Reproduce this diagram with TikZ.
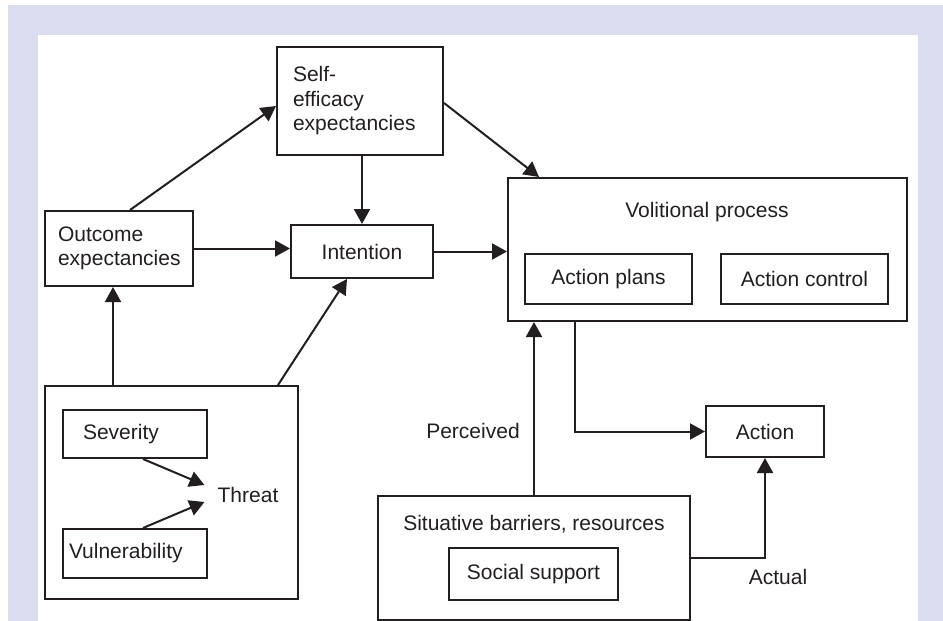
\documentclass[tikz,border=0pt]{standalone}
\usepackage{fontspec}
\setmainfont{Liberation Sans}
\usetikzlibrary{arrows.meta,calc}
\definecolor{lav}{RGB}{217,221,239}
\definecolor{ink}{RGB}{35,31,32}
\begin{document}
\begin{tikzpicture}[x=1pt,y=-1pt,
  every node/.style={font=\fontsize{21}{24.5}\selectfont, text=ink},
  box/.style={draw=ink, line width=2pt, rectangle, inner sep=0pt},
  txt/.style={inner sep=0pt},
  arr/.style={draw=ink, line width=2pt, -{Triangle[length=15pt,width=16pt]}}]
% frame
\useasboundingbox (0,0) rectangle (943,621);
\fill[white] (0,0) rectangle (943,621);
\fill[lav] (8,5) rectangle (943,621);
\fill[white] (38,35) rectangle (918,621);

% boxes
\node[box, minimum height=108pt, text width=134pt, inner xsep=16pt, align=left] (selfeff) at (360,101) {Self-\\efficacy\\expectancies};
\node[box, minimum height=75pt, text width=122pt, inner xsep=13pt, align=left] (outcome) at (119,248.5) {Outcome\\expectancies};
\node[box, minimum width=142pt, minimum height=53pt] (intention) at (362,251.5) {Intention};
\node[box, minimum width=399pt, minimum height=143pt] (volitional) at (707.5,249.5) {};
\node[txt] (voltitle) at (707,212) {Volitional process};
\node[box, minimum width=167pt, minimum height=50pt] (plans) at (608.5,279) {Action plans};
\node[box, minimum width=167pt, minimum height=50pt] (control) at (804.5,279) {Action control};

\node[box, minimum width=253pt, minimum height=213pt] (threatbox) at (171.5,492.5) {};
\node[box, minimum height=48pt, text width=104pt, inner xsep=20pt, align=left] (severity) at (135,434) {Severity};
\node[box, minimum height=49pt, text width=132pt, inner xsep=6pt, align=left] (vulner) at (135,553.5) {Vulnerability};
\node[txt] (threat) at (248,495) {Threat};

\node[box, minimum width=312pt, minimum height=124pt] (situative) at (534,558) {};
\node[txt] (sittitle) at (534,524) {Situative barriers, resources};
\node[box, minimum width=169pt, minimum height=52pt] (social) at (533.5,574) {Social support};

\node[box, minimum width=118pt, minimum height=51pt] (action) at (765,431.5) {Action};

\node[txt] (perceived) at (473,431) {Perceived};
\node[txt] (actual) at (778,577) {Actual};

% connectors
\draw[arr] ([xshift=11pt]outcome.north) -- ([yshift=-5pt]selfeff.west);
\draw[arr] (intention.north |- selfeff.south) -- (intention.north);
\draw[arr] (outcome.east) -- (intention.west |- outcome.east);
\draw[arr] ([yshift=-2pt]selfeff.east) -- ([xshift=32pt]volitional.north west);
\draw[arr] (intention.east) -- (volitional.west |- intention.east);
\coordinate (t1) at ([xshift=69pt]threatbox.north west);
\draw[arr] (t1) -- (t1 |- outcome.south);
\draw[arr] ([xshift=-21pt]threatbox.north east) -- ([xshift=-15pt]intention.south);
\draw[arr] ([xshift=8pt]severity.south) -- ([xshift=-13pt,yshift=10pt]threat.west);
\draw[arr] ([xshift=8pt]vulner.north) -- ([xshift=-13pt,yshift=-7pt]threat.west);
\coordinate (v1) at ([xshift=68pt]volitional.south west);
\draw[arr] (v1) |- (action.west);
\draw[arr] (situative.north) -- (situative.north |- volitional.south);
\draw[arr] (situative.east) -| (action.south);
\end{tikzpicture}
\end{document}
